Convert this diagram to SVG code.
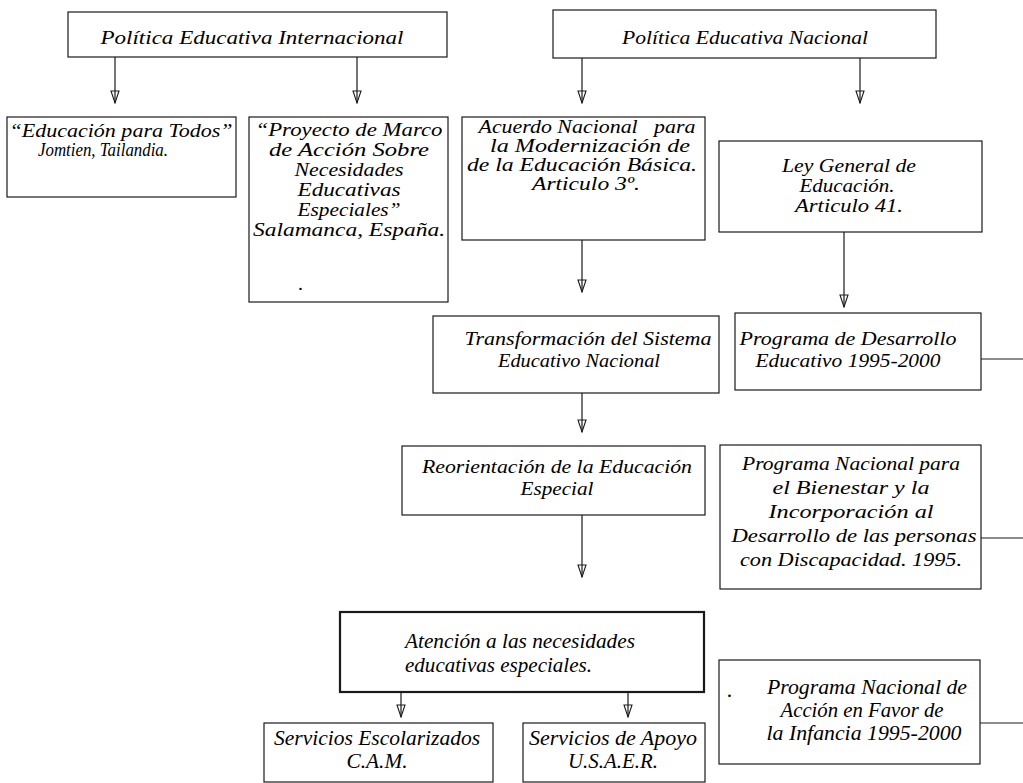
<svg xmlns="http://www.w3.org/2000/svg" width="1023" height="783" viewBox="0 0 1023 783">
<style>
.box{fill:#fff;stroke:#1a1a1a;stroke-width:1.2}
.bold{stroke-width:2.2}
.t{font-family:"Liberation Serif","Times New Roman",serif;font-style:italic;font-size:19.5px;fill:#000;text-anchor:middle}
.tr{font-family:"Liberation Serif","Times New Roman",serif;font-style:italic;font-size:21.5px;fill:#000;text-anchor:middle}
.st{text-anchor:start}
.ln{stroke:#1a1a1a;stroke-width:1.2;fill:none}
.ar{stroke:#1a1a1a;stroke-width:1.2;fill:none;marker-end:url(#ah)}
</style>
<defs>
<marker id="ah" markerUnits="userSpaceOnUse" markerWidth="14" markerHeight="10" viewBox="0 0 14 10" refX="13" refY="5" orient="auto">
<path d="M1,1 L13,5 L1,9 Z" fill="none" stroke="#1a1a1a" stroke-width="1.1"/>
</marker>
</defs>
<rect width="1023" height="783" fill="#fff"/>
<g id="connectors">
<line class="ar" x1="115" y1="57" x2="115" y2="103"/>
<line class="ar" x1="357" y1="57" x2="357" y2="103"/>
<line class="ar" x1="582" y1="58" x2="582" y2="103"/>
<line class="ar" x1="860" y1="58" x2="860" y2="103"/>
<line class="ar" x1="582" y1="240" x2="582" y2="292"/>
<line class="ar" x1="844" y1="232" x2="844" y2="307"/>
<line class="ar" x1="582" y1="393" x2="582" y2="432"/>
<line class="ar" x1="582" y1="515" x2="582" y2="577"/>
<line class="ar" x1="401" y1="692" x2="401" y2="717"/>
<line class="ar" x1="628" y1="692" x2="628" y2="717"/>
<line class="ln" x1="981" y1="359" x2="1023" y2="359"/>
<line class="ln" x1="981" y1="538" x2="1023" y2="538"/>
<line class="ln" x1="980" y1="723" x2="1023" y2="723"/>
</g>
<g id="n_pei">
<rect class="box" x="68" y="12" width="379" height="45"/>
<text class="t" x="252" y="44" textLength="303" lengthAdjust="spacingAndGlyphs">Política Educativa Internacional</text>
</g>
<g id="n_pen">
<rect class="box" x="553" y="10" width="383" height="48"/>
<text class="t" x="745" y="44" textLength="246" lengthAdjust="spacingAndGlyphs">Política Educativa Nacional</text>
</g>
<g id="n_ept">
<rect class="box" x="7" y="117" width="229" height="80"/>
<text class="t" x="121" y="137" textLength="223" lengthAdjust="spacingAndGlyphs">“Educación para Todos”</text>
<text class="t" x="103" y="156" textLength="130" lengthAdjust="spacingAndGlyphs">Jomtien, Tailandia.</text>
</g>
<g id="n_proy">
<rect class="box" x="249" y="117" width="199" height="185"/>
<text class="t" x="349" y="136" textLength="187" lengthAdjust="spacingAndGlyphs">“Proyecto de Marco</text>
<text class="t" x="349" y="156" textLength="160" lengthAdjust="spacingAndGlyphs">de Acción Sobre</text>
<text class="t" x="349" y="176" textLength="109" lengthAdjust="spacingAndGlyphs">Necesidades</text>
<text class="t" x="349" y="196" textLength="103" lengthAdjust="spacingAndGlyphs">Educativas</text>
<text class="t" x="349" y="216" textLength="103" lengthAdjust="spacingAndGlyphs">Especiales”</text>
<text class="t" x="349" y="236" textLength="192" lengthAdjust="spacingAndGlyphs">Salamanca, España.</text>
<text class="t" x="301" y="290">.</text>
</g>
<g id="n_acu">
<rect class="box" x="462" y="117" width="243" height="123"/>
<text class="t" x="587" y="133" textLength="217" lengthAdjust="spacingAndGlyphs" xml:space="preserve">Acuerdo Nacional   para</text>
<text class="t" x="590" y="152" textLength="200" lengthAdjust="spacingAndGlyphs">la Modernización de</text>
<text class="t" x="582" y="171" textLength="230" lengthAdjust="spacingAndGlyphs">de la Educación Básica.</text>
<text class="t" x="586" y="190" textLength="108" lengthAdjust="spacingAndGlyphs">Articulo 3º.</text>
</g>
<g id="n_ley">
<rect class="box" x="719" y="141" width="263" height="91"/>
<text class="t" x="849" y="172" textLength="134" lengthAdjust="spacingAndGlyphs">Ley General de</text>
<text class="t" x="847" y="192" textLength="95" lengthAdjust="spacingAndGlyphs">Educación.</text>
<text class="t" x="849" y="212" textLength="108" lengthAdjust="spacingAndGlyphs">Articulo 41.</text>
</g>
<g id="n_trans">
<rect class="box" x="433" y="316" width="286" height="77"/>
<text class="t" x="588" y="345" textLength="247" lengthAdjust="spacingAndGlyphs">Transformación del Sistema</text>
<text class="t" x="579" y="367" textLength="162" lengthAdjust="spacingAndGlyphs">Educativo Nacional</text>
</g>
<g id="n_pde">
<rect class="box" x="735" y="313" width="246" height="77"/>
<text class="t" x="848" y="345" textLength="217" lengthAdjust="spacingAndGlyphs">Programa de Desarrollo</text>
<text class="t" x="848" y="367" textLength="185" lengthAdjust="spacingAndGlyphs">Educativo 1995-2000</text>
</g>
<g id="n_reo">
<rect class="box" x="402" y="446" width="303" height="69"/>
<text class="t" x="557" y="473" textLength="270" lengthAdjust="spacingAndGlyphs">Reorientación de la Educación</text>
<text class="t" x="557" y="495" textLength="73" lengthAdjust="spacingAndGlyphs">Especial</text>
</g>
<g id="n_bien">
<rect class="box" x="720" y="445" width="261" height="144"/>
<text class="t" x="851" y="470" textLength="218" lengthAdjust="spacingAndGlyphs">Programa Nacional para</text>
<text class="t" x="851" y="494" textLength="157" lengthAdjust="spacingAndGlyphs">el Bienestar y la</text>
<text class="t" x="851" y="518" textLength="165" lengthAdjust="spacingAndGlyphs">Incorporación al</text>
<text class="t" x="854" y="542" textLength="245" lengthAdjust="spacingAndGlyphs">Desarrollo de las personas</text>
<text class="t" x="851" y="566" textLength="222" lengthAdjust="spacingAndGlyphs">con Discapacidad. 1995.</text>
</g>
<g id="n_aten">
<rect class="box bold" x="340" y="612" width="364" height="80"/>
<text class="tr" x="520" y="648" textLength="230" lengthAdjust="spacingAndGlyphs">Atención a las necesidades</text>
<text class="tr st" x="405" y="672" textLength="187" lengthAdjust="spacingAndGlyphs">educativas especiales.</text>
</g>
<g id="n_serv1">
<rect class="box" x="264" y="723" width="229" height="59"/>
<text class="tr" x="377" y="745" textLength="206" lengthAdjust="spacingAndGlyphs">Servicios Escolarizados</text>
<text class="tr" x="377" y="768" textLength="61" lengthAdjust="spacingAndGlyphs">C.A.M.</text>
</g>
<g id="n_serv2">
<rect class="box" x="523" y="723" width="182" height="59"/>
<text class="tr" x="613" y="745" textLength="168" lengthAdjust="spacingAndGlyphs">Servicios de Apoyo</text>
<text class="tr" x="613" y="768" textLength="90" lengthAdjust="spacingAndGlyphs">U.S.A.E.R.</text>
</g>
<g id="n_pna">
<rect class="box" x="719" y="660" width="261" height="104"/>
<text class="tr" x="730" y="697">.</text>
<text class="tr" x="867" y="694" textLength="200" lengthAdjust="spacingAndGlyphs">Programa Nacional de</text>
<text class="tr" x="862" y="717" textLength="163" lengthAdjust="spacingAndGlyphs">Acción en Favor de</text>
<text class="tr" x="864" y="740" textLength="195" lengthAdjust="spacingAndGlyphs">la Infancia 1995-2000</text>
</g>
</svg>
